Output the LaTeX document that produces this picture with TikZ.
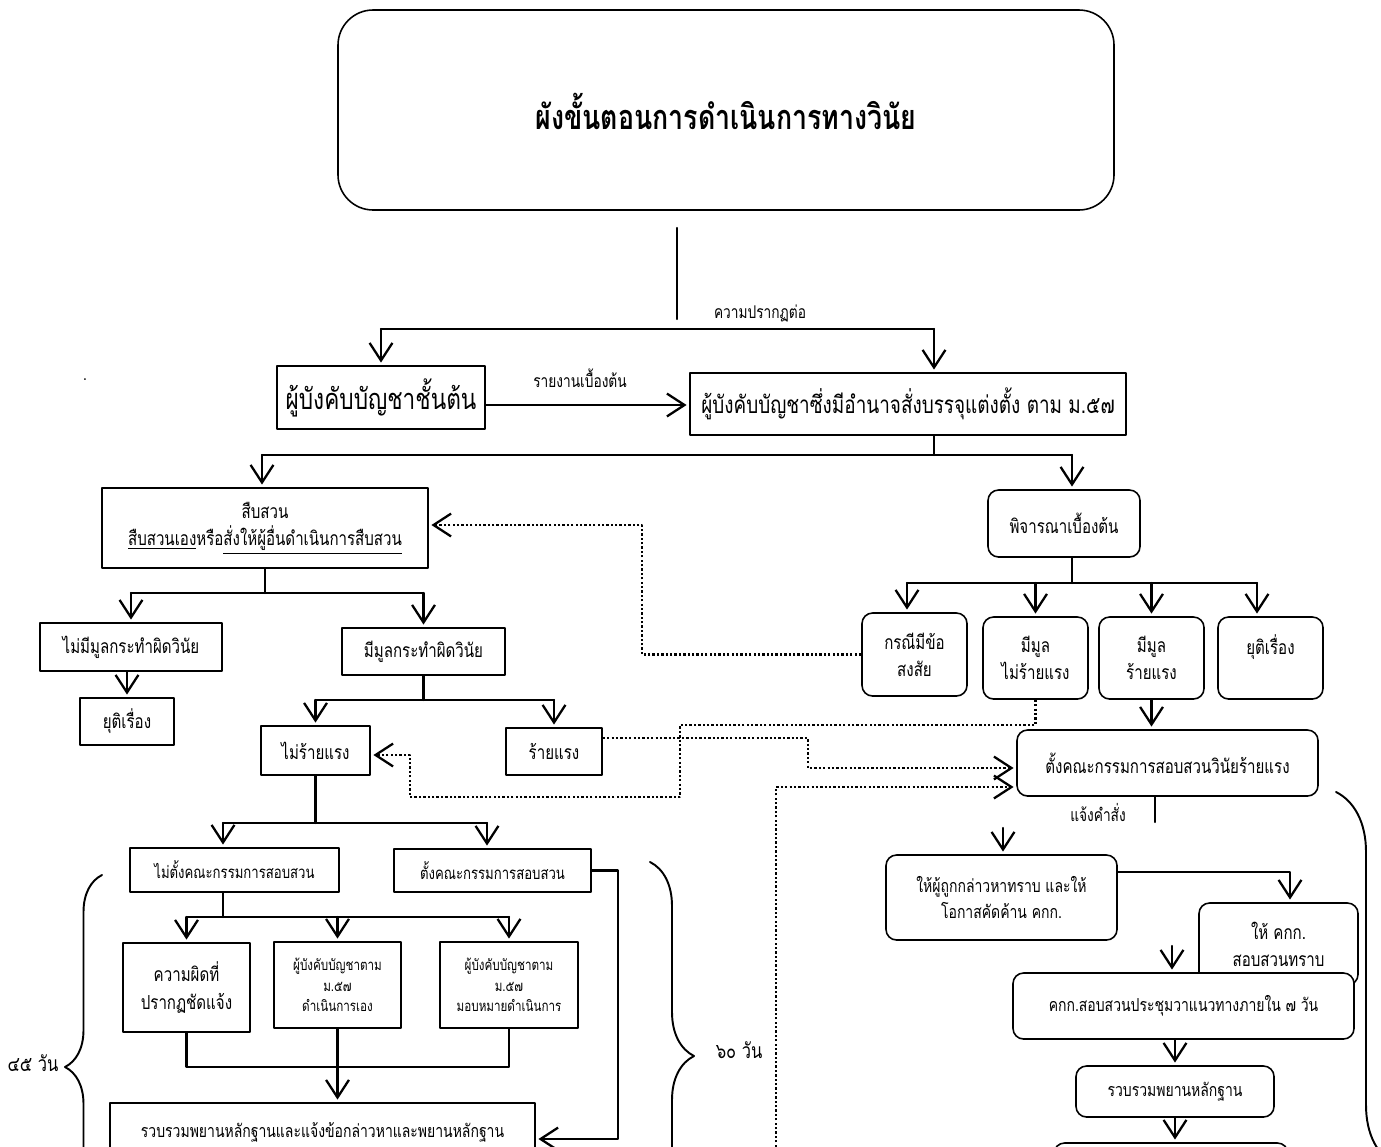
\documentclass[tikz,border=0pt]{standalone}
\usepackage{fontspec}
\setmainfont[Script=Thai,FakeStretch=0.78]{Loma}
\usetikzlibrary{arrows.meta,positioning,decorations.pathreplacing}
\newcommand{\fTitle}{\fontsize{19.5}{24}\bfseries\selectfont}
\newcommand{\fBig}{\fontsize{16.5}{20}\selectfont}
\newcommand{\fBigB}{\fontsize{13.8}{18}\selectfont}
\newcommand{\fBody}{\fontsize{11}{15.5}\selectfont}
\newcommand{\fMid}{\fontsize{9.6}{13}\selectfont}
\newcommand{\fWide}{\fontsize{10.2}{15}\selectfont}
\newcommand{\fSmall}{\fontsize{8.5}{11.6}\selectfont}
\newcommand{\fLbl}{\fontsize{10}{12}\selectfont}
\newcommand{\fDay}{\fontsize{12}{14}\selectfont}
\tikzset{
  sq/.style={draw,line width=0.9pt,fill=white,inner sep=0pt,align=center,font=\fBody},
  rd/.style={sq,rounded corners=6pt},
  bx/.style 2 args={minimum width=#1*0.02cm,minimum height=#2*0.02cm},
  lbl/.style={inner sep=0pt,font=\fLbl},
  ln/.style={line width=1.3pt},
  ar/.style={ln,shorten >=1.5pt,-{Straight Barb[length=10pt,width=13pt,line width=1.3pt]}},
  dar/.style={line width=1.4pt,line cap=butt,dash pattern=on 1.3pt off 1.2pt,shorten >=1.5pt,
              -{Straight Barb[length=10pt,width=13pt,line width=1.3pt]}},
  brc/.style={line width=1.1pt,decorate,decoration={brace,amplitude=#1}},
  every picture/.style={line cap=round,line join=round}}

\begin{document}
\begin{tikzpicture}[x=0.02cm,y=-0.02cm]
  \useasboundingbox (0,0) rectangle (1381,1146);
  \clip (0,0) rectangle (1381,1146);
  % boxes, top
  \node[rd,bx={776}{200},rounded corners=20pt,font=\fTitle,text height=22pt] (title) at (726,110) {ผังขั้นตอนการดำเนินการทางวินัย};
  \node[sq,bx={208}{63},font=\fBig] (boss1) at (381,397.5) {ผู้บังคับบัญชาชั้นต้น};
  \node[sq,bx={436}{62},font=\fBigB] (boss57) at (908,404) {ผู้บังคับบัญชาซึ่งมีอำนาจสั่งบรรจุแต่งตั้ง ตาม ม.๕๗};
  \node[lbl] (lbA) at (760,313) {ความปรากฏต่อ};
  \node[lbl] (lbB) at (580,378) {รายงานเบื้องต้น};
  \node[lbl] (dot1) at (85,380) {.};
  % boxes, left
  \node[sq,bx={326}{80}] (inv) at (265,528) {สืบสวน\\\underline{สืบสวนเอง}หรือ\underline{สั่งให้ผู้อื่นดำเนินการสืบสวน}};
  \node[sq,bx={182}{48}] (nomul) at (131,647) {ไม่มีมูลกระทำผิดวินัย};
  \node[sq,bx={94}{47}] (end1) at (127,721.5) {ยุติเรื่อง};
  \node[sq,bx={163}{47}] (mul) at (423.5,651.5) {มีมูลกระทำผิดวินัย};
  \node[sq,bx={109}{49}] (minor) at (315.5,750.5) {ไม่ร้ายแรง};
  \node[sq,bx={96}{47}] (major) at (554,751.5) {ร้ายแรง};
  \node[sq,bx={209}{44},font=\fMid] (nocomm) at (234.5,870) {ไม่ตั้งคณะกรรมการสอบสวน};
  \node[sq,bx={197}{43},font=\fMid] (setcomm) at (492.5,870.5) {ตั้งคณะกรรมการสอบสวน};
  \node[sq,bx={127}{89}] (clear) at (186.5,987.5) {ความผิดที่\\ปรากฏชัดแจ้ง};
  \node[sq,bx={127}{86},font=\fSmall] (self) at (337.5,985) {ผู้บังคับบัญชาตาม\\ม.๕๗\\ดำเนินการเอง};
  \node[sq,bx={138}{86},font=\fSmall] (assign) at (509,985) {ผู้บังคับบัญชาตาม\\ม.๕๗\\มอบหมายดำเนินการ};
  \node[sq,bx={425}{80},font=\fWide] (gather) at (322.5,1143) {รวบรวมพยานหลักฐานและแจ้งข้อกล่าวหาและพยานหลักฐาน\\\mbox{}};
  \node[lbl,font=\fDay] (d45) at (33,1063) {๔๕ วัน};
  \node[lbl,font=\fDay] (d60) at (739,1050) {๖๐ วัน};
  % boxes, right
  \node[rd,bx={152}{67}] (prelim) at (1064,523.5) {พิจารณาเบื้องต้น};
  \node[rd,bx={105}{83}] (doubt) at (914.5,654.5) {กรณีมีข้อ\\สงสัย};
  \node[rd,bx={105}{82}] (mminor) at (1035.5,658) {มีมูล\\ไม่ร้ายแรง};
  \node[rd,bx={105}{82}] (mmajor) at (1151.5,658) {มีมูล\\ร้ายแรง};
  \node[rd,bx={105}{82}] (end2) at (1270.5,658) {ยุติเรื่อง\\\mbox{}};
  \node[rd,bx={301}{66}] (comm) at (1167.5,763) {ตั้งคณะกรรมการสอบสวนวินัยร้ายแรง};
  \node[lbl] (lbC) at (1098,812) {แจ้งคำสั่ง};
  \node[rd,bx={231}{85},font=\fWide] (notify) at (1001.5,897.5) {ให้ผู้ถูกกล่าวหาทราบ และให้\\โอกาสคัดค้าน คกก.};
  \node[rd,bx={159}{82}] (tellcomm) at (1278.5,944) {ให้ คกก.\\สอบสวนทราบ};
  \node[rd,bx={341}{66},font=\fWide] (meet) at (1183.5,1006) {คกก.สอบสวนประชุมวาแนวทางภายใน ๗ วัน};
  \node[rd,bx={198}{51},font=\fWide] (evid) at (1175,1091.5) {รวบรวมพยานหลักฐาน};
  \node[rd,bx={234}{60}] (last) at (1171,1173) {};

  % top connectors
  \coordinate (st1) at (677,228); \coordinate (st2) at (677,319);
  \draw[ln] (st1) -- (st2);
  \coordinate (sp1) at (381,329); \coordinate (sp2) at (934,329);
  \draw[ln] (sp1) -- (sp2);
  \draw[ar] (sp1) -- (boss1.north);
  \draw[ar] (sp2) -- (sp2 |- boss57.north);
  \draw[ar] (boss1.east |- 0,405) -- (boss57.west |- 0,405);
  \coordinate (sp3) at (934,455);
  \draw[ln] (sp3 |- boss57.south) -- (sp3);
  \coordinate (h2a) at (262,455); \coordinate (h2b) at (1072,455);
  \draw[ln] (h2a) -- (h2b);
  \draw[ar] (h2a) -- (h2a |- inv.north);
  \draw[ar] (h2b) -- (h2b |- prelim.north);

  % left connectors
  \coordinate (h3) at (inv.south |- 0,593);
  \draw[ln] (inv.south) -- (h3);
  \draw[ln] (nomul.north |- h3) -- (mul.north |- h3);
  \draw[ar] (nomul.north |- h3) -- (nomul.north);
  \draw[ar] (mul.north |- h3) -- (mul.north);
  \draw[ar] (end1.north |- nomul.south) -- (end1.north);
  \coordinate (h4) at (mul.south |- 0,700);
  \draw[ln] (mul.south) -- (h4);
  \draw[ln] (minor.north |- h4) -- (major.north |- h4);
  \draw[ar] (minor.north |- h4) -- (minor.north);
  \draw[ar] (major.north |- h4) -- (major.north);
  \coordinate (h5) at (minor.south |- 0,823);
  \draw[ln] (minor.south) -- (h5);
  \coordinate (h5a) at (223,823); \coordinate (h5b) at (487,823);
  \draw[ln] (h5a) -- (h5b);
  \draw[ar] (h5a) -- (h5a |- nocomm.north);
  \draw[ar] (h5b) -- (h5b |- setcomm.north);
  \coordinate (h6) at (223,917);
  \draw[ln] (h6 |- nocomm.south) -- (h6);
  \draw[ln] (clear.north |- h6) -- (assign.north |- h6);
  \draw[ar] (clear.north |- h6) -- (clear.north);
  \draw[ar] (self.north |- h6) -- (self.north);
  \draw[ar] (assign.north |- h6) -- (assign.north);
  \coordinate (h7) at (0,1067);
  \draw[ln] (clear.south) -- (clear.south |- h7) -- (assign.south |- h7) -- (assign.south);
  \draw[ar] (self.south) -- (self.south |- gather.north);
  \draw[ar] (setcomm.east) -| (618,1139) -- (gather.east |- 0,1139);
  \draw[brc=0.74cm] (102,1259) -- (102,875);
  \draw[brc=0.88cm] (650,862) -- (650,1250);

  % right connectors
  \coordinate (h8) at (1072,583);
  \draw[ln] (h8 |- prelim.south) -- (h8);
  \coordinate (h8a) at (907,583); \coordinate (h8b) at (1257,583);
  \draw[ln] (h8a) -- (h8b);
  \draw[ar] (h8a) -- (h8a |- doubt.north);
  \draw[ar] (mminor.north |- h8) -- (mminor.north);
  \draw[ar] (mmajor.north |- h8) -- (mmajor.north);
  \draw[ar] (h8b) -- (h8b |- end2.north);
  \draw[ar] (mmajor.south) -- (mmajor.south |- comm.north);
  \coordinate (cs) at (1155,822);
  \draw[ln] (cs |- comm.south) -- (cs);
  \coordinate (na) at (1003,828);
  \draw[ar] (na) -- (na |- notify.north);
  \coordinate (nb) at (1290,872);
  \draw[ar] (notify.east |- nb) -| (nb |- tellcomm.north);
  \coordinate (ma) at (1172,946);
  \draw[ar] (ma) -- (ma |- meet.north);
  \draw[ar] (evid.north |- meet.south) -- (evid.north);
  \draw[ar] (evid.south) -- (evid.south |- last.north);
  \draw[brc=1.2cm] (1336,792) -- (1336,1538);

  % dotted links
  \draw[dar] (doubt.west) -| (642,525) -- (inv.east |- 0,525);
  \draw[dar] (mminor.south) |- (680,725) |- (410,797) |- (minor.east |- 0,755);
  \draw[dar] (major.east |- 0,738) -| (808,768) -- (comm.west |- 0,768);
  \coordinate (dl0) at (776,1160);
  \draw[dar] (dl0) |- (comm.west |- 0,787);
\end{tikzpicture}
\end{document}
